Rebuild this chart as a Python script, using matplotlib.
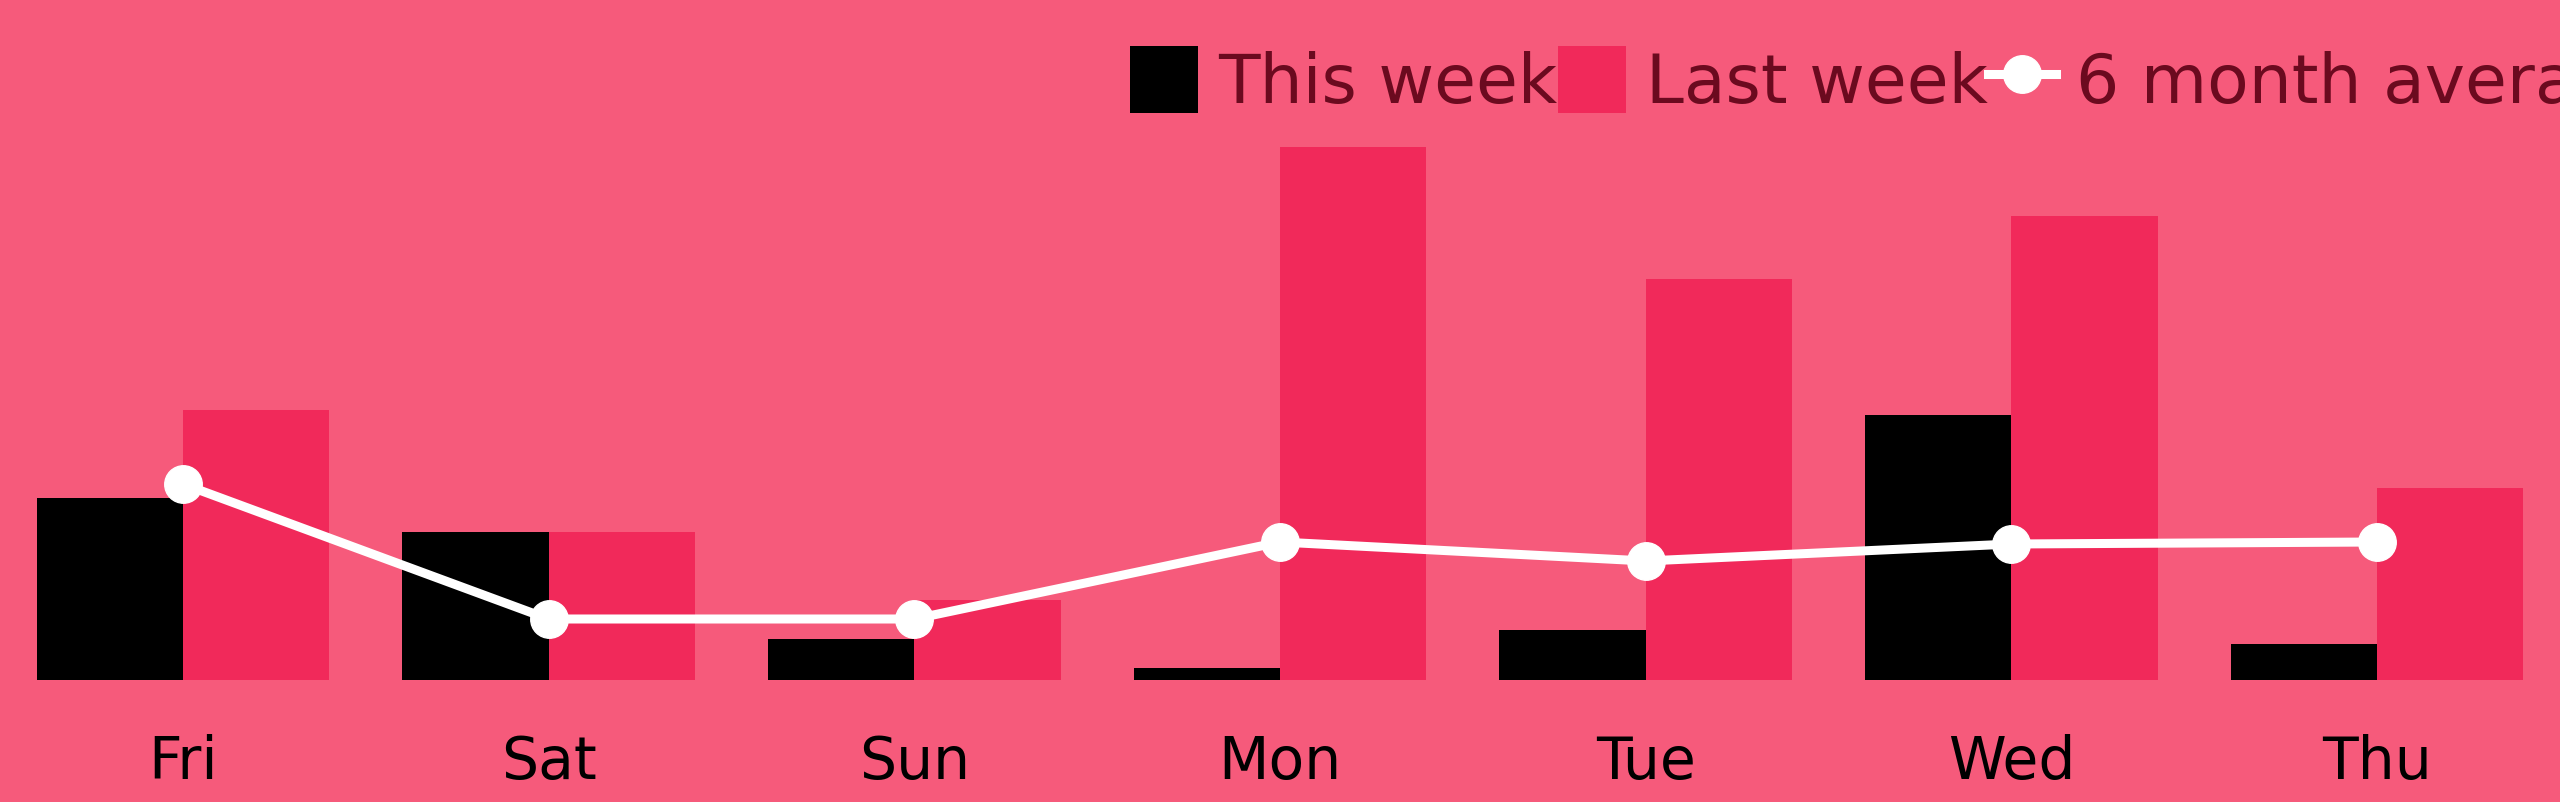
import numpy as np
import matplotlib
matplotlib.use("Agg")
from matplotlib import pyplot as plt

days = ["Fri", "Sat", "Sun", "Mon", "Tue", "Wed", "Thu"]
this_week = [182, 148, 41, 12, 50, 265, 36]
last_week = [270, 148, 80, 533, 401, 464, 192]
six_month_avg = [196, 61, 61, 138, 119, 136, 138]

bg = "#f65a7b"
red = "#f1295a"
txt = "#6b0a1f"

fig = plt.figure(figsize=(25.6, 8.03), dpi=100)
fig.patch.set_facecolor(bg)
ax = fig.add_axes([0, 122 / 803, 1, 681 / 803])
ax.set_facecolor(bg)

x = np.arange(len(days))
w = 0.4
b1 = ax.bar(x - w / 2, this_week, w, color="black", label="This week", zorder=2)
b2 = ax.bar(x + w / 2, last_week, w, color=red, label="Last week", zorder=2)
l1, = ax.plot(x, six_month_avg, color="white", lw=6.5, marker="o", ms=27,
              label="6 month average", zorder=3)

ax.set_xlim(-0.5, len(days) - 0.5)
ax.set_ylim(0, 681)
ax.set_xticks(x)
ax.set_xticklabels(days, fontsize=42, color="black")
ax.tick_params(axis="x", length=0, pad=38)
ax.set_yticks([])
for s in ax.spines.values():
    s.set_visible(False)

# legend sits at the top right, last label runs off the edge like the original
leg = fig.legend(handles=[b1, b2, l1], loc="center left",
                 bbox_to_anchor=(1130 / 2560, 1 - 82 / 803),
                 ncol=3, frameon=False, fontsize=49, labelcolor=txt,
                 handlelength=1.0, handleheight=1.15, handletextpad=0.3,
                 columnspacing=0.0, borderpad=0, borderaxespad=0)

fig.savefig("out.png", dpi=100, facecolor=bg)
